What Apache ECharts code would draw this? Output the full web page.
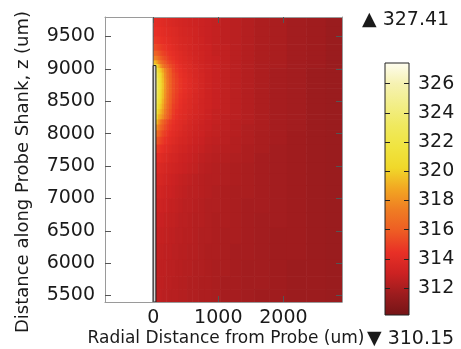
<!DOCTYPE html>
<html>
<head>
<meta charset="utf-8">
<script src="https://cdn.jsdelivr.net/npm/echarts@6/dist/echarts.min.js"></script>
<style>
html, body { margin: 0; padding: 0; background: #fff; }
#main { width: 461px; height: 349px; }
</style>
</head>
<body>
<div id="main"></div>
<script>
// cell edges (um), radial and axial
var xEdges = [0, 40, 70, 100, 130, 165, 200, 240, 285, 335, 390, 450, 520, 600, 690, 790, 900, 1030, 1180, 1350, 1550, 1780, 2050, 2350, 2650, 2900];
var zEdges = [9800, 9650, 9500, 9380, 9280, 9200, 9130, 9070, 9010, 8940, 8860, 8780, 8700, 8620, 8540, 8460, 8380, 8300, 8220, 8140, 8050, 7950, 7830, 7700, 7550, 7380, 7200, 7000, 6780, 6550, 6300, 6050, 5800, 5600, 5400];

// temperature (K), one row per z band, top to bottom
var tempRows = [
  [314.2, 314.2, 314.1, 314.1, 314.0, 313.9, 313.8, 313.7, 313.6, 313.5, 313.4, 313.3, 313.2, 313.1, 313.0, 312.9, 312.8, 312.6, 312.5, 312.3, 312.1, 312.0, 311.8, 311.7, 311.5],
  [314.4, 314.4, 314.3, 314.3, 314.2, 314.1, 314.0, 313.9, 313.8, 313.7, 313.5, 313.4, 313.3, 313.2, 313.0, 312.9, 312.8, 312.6, 312.5, 312.3, 312.1, 312.0, 311.8, 311.7, 311.5],
  [314.8, 314.7, 314.6, 314.5, 314.4, 314.3, 314.2, 314.1, 313.9, 313.8, 313.6, 313.5, 313.4, 313.2, 313.1, 312.9, 312.8, 312.6, 312.5, 312.3, 312.1, 312.0, 311.8, 311.7, 311.5],
  [315.3, 315.2, 315.0, 314.9, 314.7, 314.6, 314.4, 314.3, 314.1, 313.9, 313.7, 313.6, 313.4, 313.3, 313.1, 313.0, 312.8, 312.7, 312.5, 312.3, 312.1, 312.0, 311.8, 311.7, 311.5],
  [316.2, 316.0, 315.7, 315.4, 315.1, 314.9, 314.7, 314.5, 314.3, 314.1, 313.9, 313.7, 313.5, 313.3, 313.2, 313.0, 312.8, 312.7, 312.5, 312.3, 312.1, 312.0, 311.8, 311.7, 311.5],
  [317.5, 317.1, 316.6, 316.1, 315.6, 315.3, 315.0, 314.7, 314.5, 314.2, 314.0, 313.8, 313.6, 313.4, 313.2, 313.0, 312.9, 312.7, 312.5, 312.3, 312.1, 312.0, 311.8, 311.7, 311.5],
  [319.5, 318.8, 317.8, 317.0, 316.3, 315.8, 315.3, 315.0, 314.7, 314.4, 314.1, 313.9, 313.7, 313.4, 313.2, 313.0, 312.9, 312.7, 312.5, 312.3, 312.1, 312.0, 311.8, 311.7, 311.5],
  [322.0, 321.0, 319.5, 318.3, 317.3, 316.5, 315.9, 315.4, 315.0, 314.6, 314.3, 314.0, 313.8, 313.5, 313.3, 313.1, 312.9, 312.7, 312.5, 312.3, 312.1, 312.0, 311.8, 311.7, 311.5],
  [324.0, 322.5, 320.5, 319.8, 318.8, 317.7, 316.7, 315.9, 315.1, 314.7, 314.4, 314.1, 313.8, 313.6, 313.3, 313.1, 312.9, 312.7, 312.5, 312.3, 312.1, 311.9, 311.8, 311.6, 311.5],
  [325.0, 323.3, 321.2, 320.4, 319.3, 318.0, 316.9, 316.1, 315.3, 314.9, 314.5, 314.2, 313.9, 313.6, 313.4, 313.1, 312.9, 312.7, 312.5, 312.3, 312.1, 311.9, 311.8, 311.6, 311.5],
  [325.6, 323.7, 321.6, 320.7, 319.5, 318.2, 317.1, 316.2, 315.4, 315.0, 314.6, 314.3, 314.0, 313.7, 313.4, 313.1, 312.9, 312.7, 312.5, 312.3, 312.1, 311.9, 311.8, 311.6, 311.5],
  [325.8, 323.8, 321.7, 320.8, 319.6, 318.3, 317.1, 316.2, 315.4, 315.0, 314.6, 314.3, 314.0, 313.7, 313.4, 313.1, 312.9, 312.7, 312.5, 312.3, 312.1, 311.9, 311.8, 311.6, 311.5],
  [325.7, 323.7, 321.6, 320.7, 319.5, 318.2, 317.1, 316.2, 315.4, 315.0, 314.6, 314.3, 314.0, 313.7, 313.4, 313.1, 312.9, 312.7, 312.5, 312.3, 312.1, 311.9, 311.8, 311.6, 311.5],
  [325.4, 323.5, 321.4, 320.5, 319.4, 318.1, 317.0, 316.1, 315.3, 314.9, 314.5, 314.2, 313.9, 313.6, 313.4, 313.1, 312.9, 312.7, 312.5, 312.3, 312.1, 311.9, 311.8, 311.6, 311.5],
  [325.0, 323.1, 321.0, 320.2, 319.1, 317.9, 316.8, 316.0, 315.2, 314.8, 314.4, 314.1, 313.8, 313.6, 313.3, 313.1, 312.9, 312.7, 312.5, 312.3, 312.1, 311.9, 311.8, 311.6, 311.5],
  [324.3, 322.5, 320.5, 319.8, 318.8, 317.6, 316.6, 315.8, 315.0, 314.7, 314.3, 314.0, 313.8, 313.5, 313.3, 313.1, 312.9, 312.7, 312.5, 312.3, 312.1, 311.9, 311.8, 311.6, 311.5],
  [323.3, 321.7, 319.9, 319.3, 318.4, 317.3, 316.3, 315.6, 314.9, 314.5, 314.2, 314.0, 313.7, 313.5, 313.3, 313.0, 312.8, 312.7, 312.5, 312.3, 312.1, 311.9, 311.8, 311.6, 311.5],
  [322.0, 320.7, 319.1, 318.7, 317.9, 316.9, 316.0, 315.4, 314.7, 314.4, 314.1, 313.9, 313.6, 313.4, 313.2, 313.0, 312.8, 312.6, 312.5, 312.3, 312.1, 311.9, 311.8, 311.6, 311.5],
  [320.5, 319.5, 318.2, 317.2, 316.3, 315.7, 315.2, 314.8, 314.5, 314.2, 314.0, 313.8, 313.5, 313.3, 313.1, 312.9, 312.8, 312.6, 312.4, 312.3, 312.1, 311.9, 311.8, 311.6, 311.5],
  [318.8, 318.1, 317.2, 316.4, 315.8, 315.3, 314.9, 314.6, 314.3, 314.1, 313.9, 313.6, 313.4, 313.2, 313.0, 312.9, 312.7, 312.6, 312.4, 312.2, 312.1, 311.9, 311.8, 311.6, 311.5],
  [317.2, 316.8, 316.2, 315.7, 315.2, 314.9, 314.6, 314.3, 314.1, 313.9, 313.7, 313.5, 313.3, 313.1, 313.0, 312.8, 312.7, 312.5, 312.4, 312.2, 312.0, 311.9, 311.7, 311.6, 311.5],
  [315.9, 315.7, 315.4, 315.1, 314.8, 314.5, 314.3, 314.1, 313.9, 313.7, 313.5, 313.4, 313.2, 313.0, 312.9, 312.7, 312.6, 312.5, 312.3, 312.2, 312.0, 311.9, 311.7, 311.6, 311.5],
  [315.0, 314.9, 314.7, 314.5, 314.3, 314.1, 314.0, 313.8, 313.6, 313.5, 313.3, 313.2, 313.0, 312.9, 312.8, 312.6, 312.5, 312.4, 312.3, 312.1, 312.0, 311.8, 311.7, 311.6, 311.5],
  [314.4, 314.3, 314.2, 314.1, 313.9, 313.8, 313.7, 313.5, 313.4, 313.3, 313.1, 313.0, 312.9, 312.8, 312.6, 312.5, 312.4, 312.3, 312.2, 312.1, 311.9, 311.8, 311.7, 311.6, 311.5],
  [314.0, 313.9, 313.8, 313.7, 313.6, 313.5, 313.4, 313.3, 313.2, 313.1, 313.0, 312.9, 312.8, 312.7, 312.5, 312.4, 312.3, 312.2, 312.1, 312.0, 311.9, 311.8, 311.7, 311.6, 311.5],
  [313.7, 313.6, 313.5, 313.5, 313.4, 313.3, 313.2, 313.1, 313.0, 312.9, 312.8, 312.7, 312.6, 312.5, 312.4, 312.3, 312.3, 312.2, 312.1, 312.0, 311.9, 311.8, 311.7, 311.6, 311.5],
  [313.4, 313.4, 313.3, 313.3, 313.2, 313.1, 313.0, 313.0, 312.9, 312.8, 312.7, 312.6, 312.5, 312.5, 312.4, 312.3, 312.2, 312.1, 312.0, 312.0, 311.9, 311.8, 311.7, 311.6, 311.5],
  [313.2, 313.2, 313.1, 313.1, 313.0, 313.0, 312.9, 312.8, 312.8, 312.7, 312.6, 312.5, 312.5, 312.4, 312.3, 312.2, 312.2, 312.1, 312.0, 311.9, 311.9, 311.8, 311.7, 311.6, 311.5],
  [313.0, 313.0, 313.0, 312.9, 312.9, 312.8, 312.8, 312.7, 312.7, 312.6, 312.5, 312.5, 312.4, 312.3, 312.3, 312.2, 312.1, 312.1, 312.0, 311.9, 311.8, 311.8, 311.7, 311.6, 311.5],
  [312.9, 312.9, 312.9, 312.8, 312.8, 312.7, 312.7, 312.6, 312.6, 312.5, 312.5, 312.4, 312.4, 312.3, 312.2, 312.2, 312.1, 312.0, 312.0, 311.9, 311.8, 311.7, 311.7, 311.6, 311.5],
  [312.8, 312.8, 312.8, 312.7, 312.7, 312.6, 312.6, 312.6, 312.5, 312.5, 312.4, 312.4, 312.3, 312.3, 312.2, 312.1, 312.1, 312.0, 311.9, 311.9, 311.8, 311.7, 311.7, 311.6, 311.5],
  [312.7, 312.7, 312.7, 312.6, 312.6, 312.6, 312.5, 312.5, 312.5, 312.4, 312.4, 312.3, 312.3, 312.2, 312.2, 312.1, 312.0, 312.0, 311.9, 311.8, 311.8, 311.7, 311.6, 311.6, 311.5],
  [312.7, 312.7, 312.6, 312.6, 312.6, 312.5, 312.5, 312.5, 312.4, 312.4, 312.3, 312.3, 312.2, 312.2, 312.1, 312.1, 312.0, 311.9, 311.9, 311.8, 311.8, 311.7, 311.6, 311.6, 311.5],
  [312.6, 312.6, 312.6, 312.6, 312.5, 312.5, 312.5, 312.4, 312.4, 312.4, 312.3, 312.3, 312.2, 312.2, 312.1, 312.1, 312.0, 311.9, 311.9, 311.8, 311.7, 311.7, 311.6, 311.6, 311.5]
];

var probeX = [0, 42];
var probeZ = [5400, 9050];

var xTicks = [0, 1000, 2000];
var zTicks = [5500, 6000, 6500, 7000, 7500, 8000, 8500, 9000, 9500];
var barTicks = [312, 314, 316, 318, 320, 322, 324, 326];
var tMin = 310.15;
var tMax = 327.41;

// colour table, evenly spaced from tMin to tMax
var cmap = ['#741416', '#9c1c1e', '#cc2222', '#e83026', '#ee5c24', '#ef7c23', '#f2a622',
  '#f0d82a', '#f0e440', '#f0e95e', '#f2ee88', '#f6f2b2', '#fefdf0'];

var cells = [];
for (var i = 0; i < tempRows.length; i++) {
  for (var j = 0; j < tempRows[i].length; j++) {
    cells.push([xEdges[j], xEdges[j + 1], zEdges[i + 1], zEdges[i], tempRows[i][j]]);
  }
}

var textColor = '#1a1a1a';
var frameColor = '#9a9a9a';
var fontFamily = 'DejaVu Sans';

var chart = echarts.init(document.getElementById('main'));

function renderCell(params, api) {
  var p0 = api.coord([api.value(0), api.value(3)]);
  var p1 = api.coord([api.value(1), api.value(2)]);
  return {
    type: 'rect',
    shape: { x: p0[0], y: p0[1], width: p1[0] - p0[0] + 0.6, height: p1[1] - p0[1] + 0.6 },
    style: { fill: api.visual('color') }
  };
}

function renderProbe(params, api) {
  var p0 = api.coord([api.value(0), api.value(3)]);
  var p1 = api.coord([api.value(1), api.value(2)]);
  return {
    type: 'rect',
    shape: { x: p0[0], y: p0[1], width: p1[0] - p0[0], height: p1[1] - p0[1] },
    style: { fill: '#d8d8d8', stroke: '#1a1a1a', lineWidth: 1 }
  };
}

function renderEdge(params, api) {
  var p0 = api.coord([api.value(0), api.value(2)]);
  var p1 = api.coord([api.value(0), api.value(1)]);
  return {
    type: 'line',
    shape: { x1: p0[0], y1: p0[1], x2: p1[0], y2: p1[1] },
    style: { stroke: '#555', lineWidth: 1 }
  };
}

function renderBar(params, api) {
  var p0 = api.coord([api.value(0), api.value(3)]);
  var p1 = api.coord([api.value(1), api.value(2)]);
  var stops = cmap.map(function (c, k) {
    return { offset: k / (cmap.length - 1), color: c };
  });
  return {
    type: 'rect',
    shape: { x: p0[0], y: p0[1], width: p1[0] - p0[0], height: p1[1] - p0[1] },
    style: {
      fill: new echarts.graphic.LinearGradient(0, 1, 0, 0, stops),
      stroke: '#222',
      lineWidth: 1
    }
  };
}

function plain(v) {
  return String(v);
}

var tickLabel = { color: textColor, fontSize: 19, fontFamily: fontFamily, formatter: plain };

var option = {
  animation: false,
  backgroundColor: '#fff',
  grid: [
    { left: 105, top: 17, width: 237, height: 285 },
    { left: 385, top: 63, width: 24, height: 252 }
  ],
  xAxis: [
    {
      type: 'value', gridIndex: 0, min: -740, max: 2900, z: 5,
      axisLine: { show: true, onZero: false, lineStyle: { color: frameColor } },
      axisTick: { show: true, inside: true, length: 6, customValues: xTicks, lineStyle: { color: '#555' } },
      axisLabel: Object.assign({ margin: 7, customValues: xTicks }, tickLabel),
      splitLine: { show: false }
    },
    {
      type: 'value', gridIndex: 0, position: 'top', min: -740, max: 2900, z: 5,
      axisLine: { show: true, onZero: false, lineStyle: { color: frameColor } },
      axisTick: { show: true, inside: true, length: 6, customValues: xTicks, lineStyle: { color: '#555' } },
      axisLabel: { show: false },
      splitLine: { show: false }
    },
    { type: 'value', gridIndex: 1, min: 0, max: 1, show: false }
  ],
  yAxis: [
    {
      type: 'value', gridIndex: 0, min: 5400, max: 9800, z: 5,
      axisLine: { show: true, onZero: false, lineStyle: { color: frameColor } },
      axisTick: { show: true, inside: true, length: 6, customValues: zTicks, lineStyle: { color: '#555' } },
      axisLabel: Object.assign({ margin: 10, customValues: zTicks }, tickLabel),
      splitLine: { show: false }
    },
    {
      type: 'value', gridIndex: 0, position: 'right', min: 5400, max: 9800, z: 5,
      axisLine: { show: true, onZero: false, lineStyle: { color: frameColor } },
      axisTick: { show: true, inside: true, length: 6, customValues: zTicks, lineStyle: { color: '#555' } },
      axisLabel: { show: false },
      splitLine: { show: false }
    },
    {
      type: 'value', gridIndex: 1, position: 'right', min: tMin, max: tMax, z: 5,
      axisLine: { show: false, onZero: false },
      axisTick: { show: true, inside: true, length: 5, customValues: barTicks, lineStyle: { color: '#222' } },
      axisLabel: Object.assign({ margin: 9, customValues: barTicks }, tickLabel),
      splitLine: { show: false }
    },
    {
      type: 'value', gridIndex: 1, position: 'left', min: tMin, max: tMax, z: 5,
      axisLine: { show: false, onZero: false },
      axisTick: { show: true, inside: true, length: 5, customValues: barTicks, lineStyle: { color: '#222' } },
      axisLabel: { show: false },
      splitLine: { show: false }
    }
  ],
  visualMap: {
    type: 'continuous', show: false, seriesIndex: 0, dimension: 4,
    min: tMin, max: tMax,
    inRange: { color: cmap }
  },
  series: [
    {
      type: 'custom', name: 'Temperature', xAxisIndex: 0, yAxisIndex: 0, clip: true,
      renderItem: renderCell, encode: { x: [0, 1], y: [2, 3] }, data: cells
    },
    {
      type: 'custom', name: 'Boundary', xAxisIndex: 0, yAxisIndex: 0,
      renderItem: renderEdge, encode: { x: 0, y: [1, 2] },
      data: [[probeX[0], probeZ[0], 9800]]
    },
    {
      type: 'custom', name: 'Probe', xAxisIndex: 0, yAxisIndex: 0,
      renderItem: renderProbe, encode: { x: [0, 1], y: [2, 3] },
      data: [[probeX[0], probeX[1], probeZ[0], probeZ[1]]]
    },
    {
      type: 'custom', name: 'Colour bar', xAxisIndex: 2, yAxisIndex: 2,
      renderItem: renderBar, encode: { x: [0, 1], y: [2, 3] },
      data: [[0, 1, tMin, tMax]]
    }
  ],
  graphic: [
    {
      type: 'text', x: 23, y: 172, rotation: Math.PI / 2,
      style: { text: 'Distance along Probe Shank, z (um)', fill: textColor, fontSize: 18, fontFamily: fontFamily, align: 'center', verticalAlign: 'middle' }
    },
    {
      type: 'text', x: 226, y: 339,
      style: { text: 'Radial Distance from Probe (um)', fill: textColor, fontSize: 17, fontFamily: fontFamily, align: 'center', verticalAlign: 'middle' }
    },
    {
      type: 'text', x: 362, y: 20,
      style: { text: '\u25B2 ' + tMax.toFixed(2), fill: textColor, fontSize: 19, fontFamily: fontFamily, align: 'left', verticalAlign: 'middle' }
    },
    {
      type: 'text', x: 367, y: 339,
      style: { text: '\u25BC ' + tMin.toFixed(2), fill: textColor, fontSize: 19, fontFamily: fontFamily, align: 'left', verticalAlign: 'middle' }
    }
  ]
};

chart.setOption(option);
</script>
</body>
</html>
